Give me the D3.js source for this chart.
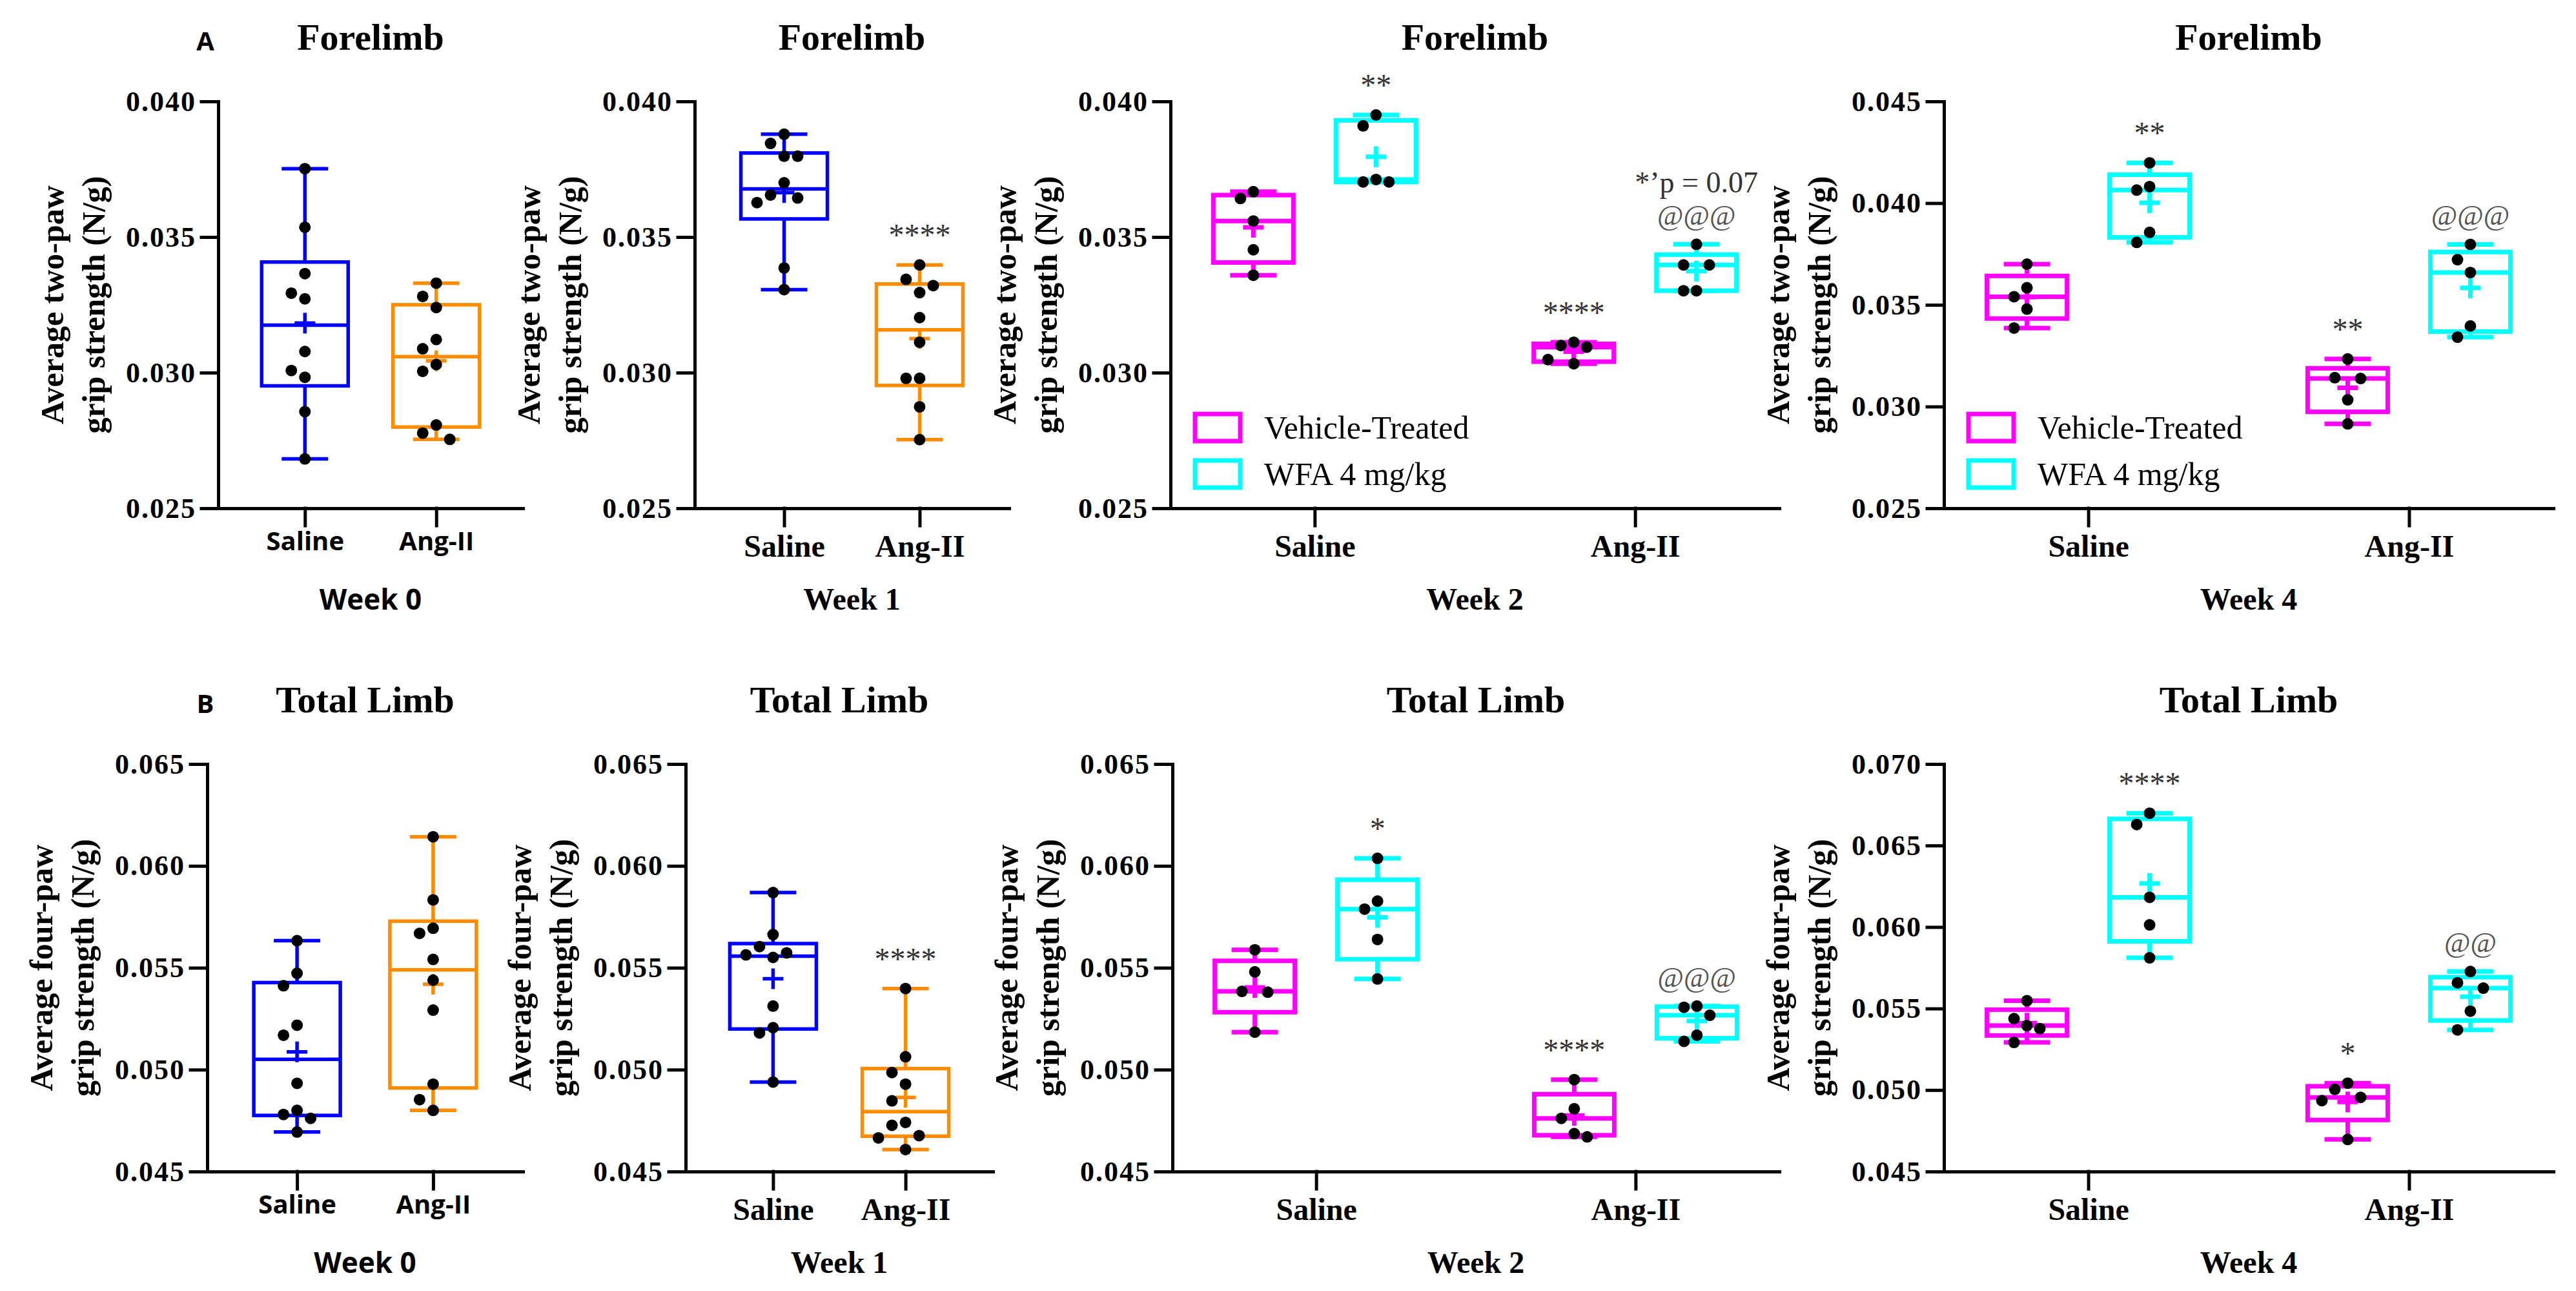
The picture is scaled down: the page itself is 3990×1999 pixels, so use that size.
<!DOCTYPE html>
<html lang="en">
<head>
<meta charset="UTF-8">
<title>Grip strength</title>
<script src="https://cdnjs.cloudflare.com/ajax/libs/d3/7.8.5/d3.min.js"></script>
<style>
    body { margin: 0; background: #fff; }
    svg { display: block; }
</style>
</head>
<body>
<svg id="chart"></svg>
<script>

// ---- data (N/g) ----
var categories = ["Saline", "Ang-II"];
var treatments = ["Vehicle-Treated", "WFA 4 mg/kg"];

var foreTicks = [0.025, 0.030, 0.035, 0.040];
var foreTicksW4 = [0.025, 0.030, 0.035, 0.040, 0.045];
var totalTicks = [0.045, 0.050, 0.055, 0.060, 0.065];
var totalTicksW4 = [0.045, 0.050, 0.055, 0.060, 0.065, 0.070];

// Forelimb
var foreW0Saline = [0.03752, 0.03536, 0.03365, 0.03293, 0.03272, 0.03078, 0.03008, 0.02983, 0.02856, 0.02682];
var foreW0AngII = [0.0333, 0.03281, 0.0324, 0.03122, 0.03088, 0.0303, 0.03005, 0.02807, 0.02777, 0.02754];
var foreW1Saline = [0.03879, 0.03845, 0.03798, 0.03798, 0.037, 0.03655, 0.03644, 0.03627, 0.03386, 0.03306];
var foreW1AngII = [0.03397, 0.03344, 0.03321, 0.03295, 0.03203, 0.03112, 0.02979, 0.02979, 0.02874, 0.02753];
var foreW2VehSaline = [0.03667, 0.03642, 0.03559, 0.03453, 0.03359];
var foreW2WfaSaline = [0.0395, 0.0391, 0.03712, 0.03703, 0.03703];
var foreW2VehAngII = [0.03112, 0.031, 0.03094, 0.03048, 0.03033];
var foreW2WfaAngII = [0.03473, 0.03397, 0.03397, 0.03302, 0.03302];
var foreW4VehSaline = [0.037, 0.03584, 0.0354, 0.03479, 0.03386];
var foreW4WfaSaline = [0.04198, 0.04081, 0.04064, 0.03856, 0.03807];
var foreW4VehAngII = [0.03234, 0.03142, 0.03138, 0.03033, 0.02915];
var foreW4WfaAngII = [0.03797, 0.03722, 0.03659, 0.03396, 0.03341];

// Total limb
var totalW0Saline = [0.05633, 0.05473, 0.05412, 0.05218, 0.05169, 0.04933, 0.048, 0.0478, 0.04761, 0.04694];
var totalW0AngII = [0.06143, 0.05833, 0.05694, 0.05669, 0.05541, 0.05439, 0.05292, 0.04929, 0.04853, 0.048];
var totalW1Saline = [0.05869, 0.05663, 0.05604, 0.05573, 0.05563, 0.05551, 0.05312, 0.05206, 0.0518, 0.04939];
var totalW1AngII = [0.05398, 0.05063, 0.04986, 0.04929, 0.04847, 0.04741, 0.04727, 0.04676, 0.04665, 0.04608];
var totalW2VehSaline = [0.05588, 0.0548, 0.05384, 0.0538, 0.05184];
var totalW2WfaSaline = [0.06037, 0.05827, 0.05788, 0.05639, 0.05445];
var totalW2VehAngII = [0.04951, 0.04808, 0.04761, 0.04686, 0.0467];
var totalW2WfaAngII = [0.05312, 0.05306, 0.05267, 0.05169, 0.05139];
var totalW4VehSaline = [0.05548, 0.05438, 0.05395, 0.05377, 0.05292];
var totalW4WfaSaline = [0.06698, 0.06629, 0.06182, 0.06013, 0.05811];
var totalW4VehAngII = [0.05042, 0.05004, 0.04955, 0.04935, 0.04697];
var totalW4WfaAngII = [0.05727, 0.05658, 0.05625, 0.05484, 0.05369];

// significance marks, one per box (lines split by \n)
var foreW0Marks = ["", ""];
var foreW1Marks = ["", "****"];
var foreW2Marks = ["", "**", "****", "*\u2019p = 0.07\n@@@"];
var foreW4Marks = ["", "**", "**", "@@@"];
var totalW0Marks = ["", ""];
var totalW1Marks = ["", "****"];
var totalW2Marks = ["", "*", "****", "@@@"];
var totalW4Marks = ["", "****", "*", "@@"];

// ---- drawing ----
var width = 3990;
var height = 1999;
var serif = "'Liberation Serif', 'Times New Roman', serif";
var sans = "'Open Sans', 'Liberation Sans', sans-serif";
var blue = "#0000ff", orange = "#ff8c00", magenta = "#ff00ff", cyan = "#00ffff";

var svg = d3.select("#chart")
    .attr("width", width)
    .attr("height", height);

svg.append("rect").attr("width", width).attr("height", height).attr("fill", "#fff");

// (n+1) percentile, the way the box edges are placed in the figure
function quartile(sorted, p) {
    var n = sorted.length;
    var h = (n + 1) * p;
    if (h <= 1) return sorted[0];
    if (h >= n) return sorted[n - 1];
    var lo = Math.floor(h);
    return sorted[lo - 1] + (h - lo) * (sorted[lo] - sorted[lo - 1]);
}

// simple scatter spread: points that sit too close vertically go to side lanes
function spread(values, y, step, gap) {
    var order = d3.range(values.length).sort(function (a, b) { return values[b] - values[a]; });
    var lanes = [0, -1, 1, -2, 2, -3, 3];
    var placed = [];
    var offsets = [];
    order.forEach(function (i) {
        var py = y(values[i]);
        var lane = lanes.find(function (l) {
            return !placed.some(function (p) { return p.lane === l && Math.abs(p.y - py) < gap; });
        });
        placed.push({lane: lane, y: py});
        offsets[i] = lane * step;
    });
    return offsets;
}

function drawPanel(p) {
    var g = svg.append("g");
    var four = p.series.length === 4;

    var y = d3.scaleLinear().domain([p.ticks[0], p.ticks[p.ticks.length - 1]]).range([p.y1, p.y0]);
    var x = d3.scalePoint().domain(categories).range([p.x0, p.x1]).padding(four ? 0.45 : 0.66);
    var sub = d3.scaleBand().domain(treatments).range([-190, 190]);

    var boxW = four ? 124 : 134;
    var capW = 72;
    var sw = 5;
    var boxSw = four ? 7 : 5.5;

    // y axis
    var yAxis = g.append("g")
        .attr("transform", "translate(" + p.x0 + ",0)")
        .call(d3.axisLeft(y).tickValues(p.ticks).tickFormat(d3.format(".3f"))
            .tickSize(26).tickSizeOuter(0).tickPadding(8));
    yAxis.selectAll("text")
        .attr("font-family", serif).attr("font-weight", "bold")
        .attr("font-size", 44).attr("letter-spacing", 2).attr("fill", "#000");

    // x axis
    var xAxis = g.append("g")
        .attr("transform", "translate(0," + p.y1 + ")")
        .call(d3.axisBottom(x).tickSize(27).tickSizeOuter(0).tickPadding(p.sansX ? 10 : 14));
    xAxis.selectAll("text")
        .attr("font-family", p.sansX ? sans : serif).attr("font-weight", "bold")
        .attr("font-size", p.sansX ? 40 : 48).attr("fill", "#000");

    g.selectAll(".domain, .tick line")
        .attr("stroke", "#000").attr("stroke-width", sw).attr("stroke-linecap", "square");

    // title, week label
    var mid = (p.x0 + p.x1) / 2;
    g.append("text")
        .attr("x", mid).attr("y", p.y0 - 80)
        .attr("text-anchor", "middle")
        .attr("font-family", serif).attr("font-weight", "bold").attr("font-size", 58)
        .text(p.title);
    g.append("text")
        .attr("x", mid).attr("y", p.y1 + 157)
        .attr("text-anchor", "middle")
        .attr("font-family", p.sansX ? sans : serif).attr("font-weight", "bold")
        .attr("font-size", p.sansX ? 44 : 48)
        .text(p.week);

    // y label, two lines
    var ymid = (p.y0 + p.y1) / 2;
    p.ylabel.forEach(function (line, i) {
        g.append("text")
            .attr("transform", "translate(" + (p.x0 - 240 + i * 64) + "," + ymid + ") rotate(-90)")
            .attr("text-anchor", "middle")
            .attr("font-family", serif).attr("font-weight", "bold").attr("font-size", 50)
            .text(line);
    });

    if (p.letter) {
        g.append("text")
            .attr("x", 318).attr("y", p.y0 - 79)
            .attr("text-anchor", "middle")
            .attr("font-family", sans).attr("font-weight", "bold").attr("font-size", 40)
            .text(p.letter);
    }

    // boxes
    p.series.forEach(function (s, si) {
        var cx = x(s.cat) + (four ? sub(s.treat) + sub.bandwidth() / 2 : 0);
        var sorted = s.values.slice().sort(d3.ascending);
        var lo = sorted[0], hi = sorted[sorted.length - 1];
        var q1 = quartile(sorted, 0.25), med = quartile(sorted, 0.5), q3 = quartile(sorted, 0.75);
        var mean = d3.mean(sorted);
        var bg = g.append("g").attr("stroke", s.color).attr("stroke-width", boxSw).attr("fill", "none");

        bg.append("line").attr("x1", cx).attr("x2", cx).attr("y1", y(hi)).attr("y2", y(q3));
        bg.append("line").attr("x1", cx).attr("x2", cx).attr("y1", y(q1)).attr("y2", y(lo));
        bg.append("line").attr("x1", cx - capW / 2).attr("x2", cx + capW / 2).attr("y1", y(hi)).attr("y2", y(hi));
        bg.append("line").attr("x1", cx - capW / 2).attr("x2", cx + capW / 2).attr("y1", y(lo)).attr("y2", y(lo));
        bg.append("rect")
            .attr("x", cx - boxW / 2).attr("y", y(q3))
            .attr("width", boxW).attr("height", y(q1) - y(q3))
            .attr("fill", "#fff");
        bg.append("line").attr("x1", cx - boxW / 2).attr("x2", cx + boxW / 2).attr("y1", y(med)).attr("y2", y(med));
        // mean marker
        bg.append("line").attr("x1", cx - 16).attr("x2", cx + 16).attr("y1", y(mean)).attr("y2", y(mean));
        bg.append("line").attr("x1", cx).attr("x2", cx).attr("y1", y(mean) - 16).attr("y2", y(mean) + 16);

        var offs = spread(s.values, y, four ? 20 : 21, 32);
        g.selectAll(null)
            .data(s.values)
            .enter()
            .append("circle")
            .attr("cx", function (d, i) { return cx + offs[i]; })
            .attr("cy", function (d) { return y(d); })
            .attr("r", 9)
            .attr("fill", "#000");

        // significance marks above the top whisker
        var mark = p.marks[si];
        if (mark) {
            var lines = mark.split("\n");
            lines.forEach(function (t, li) {
                var isAt = t.indexOf("@") === 0;
                g.append("text")
                    .attr("x", cx).attr("y", y(hi) - 30 - (lines.length - 1 - li) * 50)
                    .attr("text-anchor", "middle")
                    .attr("font-family", serif)
                    .attr("font-size", isAt ? 44 : (t.length > 4 ? 46 : 48))
                    .attr("fill", isAt ? "#555" : "#333")
                    .text(t);
            });
        }
    });

    // legend
    if (p.legend) {
        [magenta, cyan].forEach(function (c, i) {
            var cy = p.y1 - 125 + i * 72;
            g.append("rect")
                .attr("x", p.x0 + 38).attr("y", cy - 21)
                .attr("width", 70).attr("height", 42)
                .attr("fill", "#fff").attr("stroke", c).attr("stroke-width", 7);
            g.append("text")
                .attr("x", p.x0 + 145).attr("y", cy + 17)
                .attr("font-family", serif).attr("font-size", 50)
                .text(treatments[i]);
        });
    }
}

function twoGroups(a, b) {
    return [
        {cat: "Saline", color: blue, values: a},
        {cat: "Ang-II", color: orange, values: b}
    ];
}

function fourGroups(vs, ws, va, wa) {
    return [
        {cat: "Saline", treat: treatments[0], color: magenta, values: vs},
        {cat: "Saline", treat: treatments[1], color: cyan, values: ws},
        {cat: "Ang-II", treat: treatments[0], color: magenta, values: va},
        {cat: "Ang-II", treat: treatments[1], color: cyan, values: wa}
    ];
}

var foreLabel = ["Average two-paw", "grip strength (N/g)"];
var totalLabel = ["Average four-paw", "grip strength (N/g)"];
var topY = [157, 787];
var botY = [1183, 1814];

var panels = [
    {x0: 338, x1: 810, y0: topY[0], y1: topY[1], letter: "A", sansX: true, title: "Forelimb", week: "Week 0",
        ylabel: foreLabel, ticks: foreTicks, series: twoGroups(foreW0Saline, foreW0AngII), marks: foreW0Marks},
    {x0: 1076, x1: 1563, y0: topY[0], y1: topY[1], title: "Forelimb", week: "Week 1",
        ylabel: foreLabel, ticks: foreTicks, series: twoGroups(foreW1Saline, foreW1AngII), marks: foreW1Marks},
    {x0: 1813, x1: 2756, y0: topY[0], y1: topY[1], title: "Forelimb", week: "Week 2", legend: true,
        ylabel: foreLabel, ticks: foreTicks,
        series: fourGroups(foreW2VehSaline, foreW2WfaSaline, foreW2VehAngII, foreW2WfaAngII), marks: foreW2Marks},
    {x0: 3011, x1: 3955, y0: topY[0], y1: topY[1], title: "Forelimb", week: "Week 4", legend: true,
        ylabel: foreLabel, ticks: foreTicksW4,
        series: fourGroups(foreW4VehSaline, foreW4WfaSaline, foreW4VehAngII, foreW4WfaAngII), marks: foreW4Marks},
    {x0: 321, x1: 810, y0: botY[0], y1: botY[1], letter: "B", sansX: true, title: "Total Limb", week: "Week 0",
        ylabel: totalLabel, ticks: totalTicks, series: twoGroups(totalW0Saline, totalW0AngII), marks: totalW0Marks},
    {x0: 1062, x1: 1538, y0: botY[0], y1: botY[1], title: "Total Limb", week: "Week 1",
        ylabel: totalLabel, ticks: totalTicks, series: twoGroups(totalW1Saline, totalW1AngII), marks: totalW1Marks},
    {x0: 1816, x1: 2756, y0: botY[0], y1: botY[1], title: "Total Limb", week: "Week 2",
        ylabel: totalLabel, ticks: totalTicks,
        series: fourGroups(totalW2VehSaline, totalW2WfaSaline, totalW2VehAngII, totalW2WfaAngII), marks: totalW2Marks},
    {x0: 3011, x1: 3955, y0: botY[0], y1: botY[1], title: "Total Limb", week: "Week 4",
        ylabel: totalLabel, ticks: totalTicksW4,
        series: fourGroups(totalW4VehSaline, totalW4WfaSaline, totalW4VehAngII, totalW4WfaAngII), marks: totalW4Marks}
];

panels.forEach(drawPanel);

</script>
</body>
</html>
